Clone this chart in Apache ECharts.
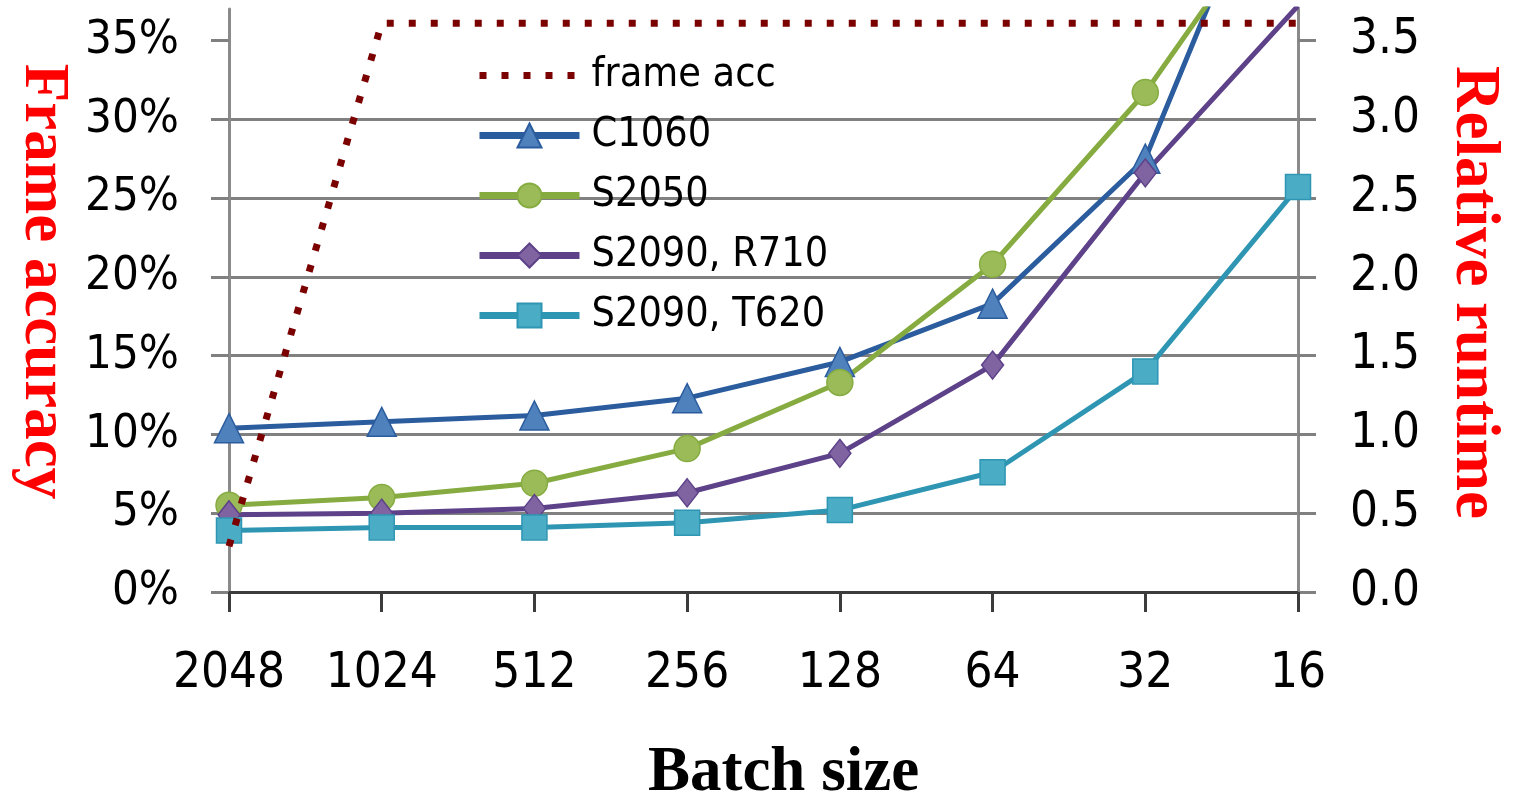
<!DOCTYPE html>
<html><head><meta charset="utf-8">
<script src="https://cdn.jsdelivr.net/npm/echarts@6/dist/echarts.min.js"></script>
<style>html,body{margin:0;padding:0;background:#fff}#c{width:1513px;height:799px}</style>
</head><body><div id="c"></div>
<script>
// ---- data ----
const categories = ['2048', '1024', '512', '256', '128', '64', '32', '16'];
const frameAcc  = [2.9, 36.1, 36.1, 36.1, 36.1, 36.1, 36.1, 36.1];   // % (left axis)
const c1060     = [1.04, 1.08, 1.12, 1.23, 1.46, 1.83, 2.75, 5.1];   // relative runtime (right axis)
const s2050     = [0.55, 0.60, 0.69, 0.91, 1.33, 2.08, 3.17, 4.55];
const s2090r710 = [0.49, 0.50, 0.53, 0.63, 0.88, 1.44, 2.66, 3.72];
const s2090t620 = [0.39, 0.41, 0.41, 0.44, 0.52, 0.76, 1.40, 2.57];
const leftTicks  = [0, 5, 10, 15, 20, 25, 30, 35];
const rightTicks = [0, 0.5, 1.0, 1.5, 2.0, 2.5, 3.0, 3.5];
const seriesNames = ['frame acc', 'C1060', 'S2050', 'S2090, R710', 'S2090, T620'];

const FONT = "'Liberation Sans Narrow','Arial Narrow','DejaVu Sans Condensed',Roboto,sans-serif";
const SERIF = "'Liberation Serif','Times New Roman',serif";
const GRID = '#808080';
const DOT = [7, 15];

const chart = echarts.init(document.getElementById('c'), null, {renderer: 'canvas'});
function runtimeSeries(name, data, symbol, size, line, fill) {
  return {
    name, type: 'line', yAxisIndex: 1, data, symbol, symbolSize: size,
    lineStyle: {color: line, width: 5},
    itemStyle: {color: fill, borderColor: line, borderWidth: 1.5},
    z: 3
  };
}
chart.setOption({
  animation: false,
  backgroundColor: '#fff',
  grid: {left: 229, right: 215, top: 9, bottom: 207, containLabel: false, outerBoundsMode: 'none'},
  legend: {
    orient: 'vertical', left: 476, top: 55, padding: 0,
    itemWidth: 100, itemHeight: 30, itemGap: 19,
    textStyle: {fontFamily: FONT, fontSize: 41, color: '#000', lineHeight: 40, padding: [0, 0, 0, 7]},
    data: [
      {name: seriesNames[0], itemStyle: {opacity: 0}, lineStyle: {width: 7, type: DOT, color: '#7b0000'}},
      {name: seriesNames[1], lineStyle: {width: 7}},
      {name: seriesNames[2], lineStyle: {width: 7}},
      {name: seriesNames[3], lineStyle: {width: 7}},
      {name: seriesNames[4], lineStyle: {width: 7}}
    ]
  },
  xAxis: {
    type: 'category', data: categories, boundaryGap: false,
    axisLine: {lineStyle: {color: '#3c3c3c', width: 3}},
    axisTick: {show: true, length: 20, lineStyle: {color: '#3c3c3c', width: 3}},
    axisLabel: {fontFamily: FONT, fontSize: 49, color: '#000', margin: 58, interval: 0},
    splitLine: {show: false},
    name: 'Batch size', nameLocation: 'middle', nameGap: 150,
    nameTextStyle: {fontFamily: SERIF, fontWeight: 'bold', fontSize: 63, color: '#000', padding: [0, 0, 0, 40]}
  },
  yAxis: [
    {
      type: 'value', position: 'left', min: 0, max: 37, interval: 5,
      axisLine: {show: true, lineStyle: {color: '#8a8a8a', width: 3}},
      axisTick: {show: true, length: 18, customValues: leftTicks, lineStyle: {color: GRID, width: 3}},
      axisLabel: {fontFamily: FONT, fontSize: 47, color: '#000', margin: 50, customValues: leftTicks,
                  formatter: v => v + '%'},
      splitLine: {show: true, showMaxLine: false, lineStyle: {color: GRID, width: 3}},
      name: 'Frame accuracy', nameLocation: 'middle', nameRotate: -90, nameGap: 135,
      nameTextStyle: {fontFamily: SERIF, fontWeight: 'bold', fontSize: 63, color: '#ff0000', padding: [0, 38, 0, 0]}
    },
    {
      type: 'value', position: 'right', min: 0, max: 3.7, interval: 0.5,
      axisLine: {show: true, lineStyle: {color: '#8a8a8a', width: 3}},
      axisTick: {show: true, length: 18, customValues: rightTicks, lineStyle: {color: GRID, width: 3}},
      axisLabel: {fontFamily: FONT, fontSize: 49, color: '#000', margin: 52, customValues: rightTicks,
                  formatter: v => v.toFixed(1)},
      splitLine: {show: false},
      name: 'Relative runtime', nameLocation: 'middle', nameRotate: -90, nameGap: 144,
      nameTextStyle: {fontFamily: SERIF, fontWeight: 'bold', fontSize: 63, color: '#ff0000', padding: [0, 16, 0, 0]}
    }
  ],
  series: [
    {
      name: seriesNames[0], type: 'line', yAxisIndex: 0, data: frameAcc,
      symbol: 'none',
      lineStyle: {color: '#7b0000', width: 7, type: DOT, cap: 'butt'},
      itemStyle: {color: '#7b0000'},
      z: 5
    },
    runtimeSeries(seriesNames[1], c1060, 'triangle', 29, '#2B5C9E', '#4F81BD'),
    runtimeSeries(seriesNames[2], s2050, 'circle', 26, '#86AC41', '#9BBB59'),
    runtimeSeries(seriesNames[3], s2090r710, 'diamond', [22, 28], '#5E4289', '#8064A2'),
    runtimeSeries(seriesNames[4], s2090t620, 'rect', 25, '#2E96B3', '#4BACC6')
  ]
});
</script>
</body></html>
